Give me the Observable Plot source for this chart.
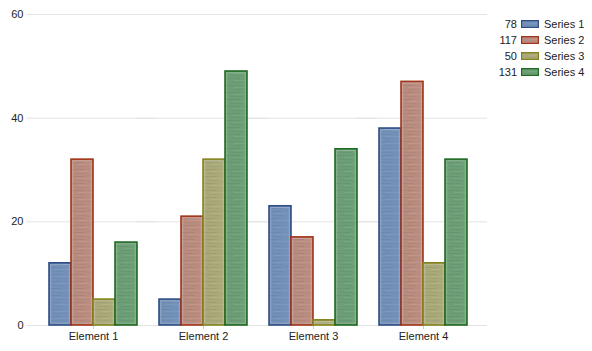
<!DOCTYPE html>
<html><head><meta charset="utf-8">
<script src="https://cdn.jsdelivr.net/npm/d3@7"></script>
<script src="https://cdn.jsdelivr.net/npm/@observablehq/plot@0.6"></script>
<style>
body{margin:0;background:#fff;font-family:"Liberation Sans",Arial,sans-serif;}
#wrap{position:relative;width:592px;height:351px;}
#legend{position:absolute;left:490px;top:16px;font-size:11px;color:#222;}
.row{display:flex;align-items:center;height:16px;}
.val{width:27px;text-align:right;}
.sw{margin-left:4px;margin-right:5px;width:18px;height:8px;}
</style></head>
<body>
<svg width="0" height="0" style="position:absolute">
<defs id="pdefs"></defs>
</svg>
<div id="wrap"><div id="legend"></div></div>
<script>
const elements = ["Element 1", "Element 2", "Element 3", "Element 4"];
const series = ["Series 1", "Series 2", "Series 3", "Series 4"];
const series1 = [12, 5, 23, 38];
const series2 = [32, 21, 17, 47];
const series3 = [5, 32, 1, 12];
const series4 = [16, 49, 34, 32];
const yTicks = [0, 20, 40, 60];
const fills = ["#7391b8", "#b98c80", "#a9a97a", "#6d9f76"];
const strokes = ["#2e4d86", "#a3341a", "#85841c", "#1e6b22"];

const values = [series1, series2, series3, series4];
const data = elements.flatMap((e, i) => series.map((s, j) => ({element: e, series: s, value: values[j][i]})));

// brushed texture patterns
const defs = d3.select("#pdefs");
fills.forEach((f, i) => {
  const c = d3.color(f);
  const p = defs.append("pattern").attr("id", "pat" + i).attr("patternUnits", "userSpaceOnUse")
    .attr("width", 23).attr("height", 7);
  p.append("rect").attr("width", 23).attr("height", 7).attr("fill", f);
  p.append("rect").attr("y", 1).attr("width", 14).attr("height", 1).attr("fill", c.darker(0.18));
  p.append("rect").attr("x", 8).attr("y", 3).attr("width", 15).attr("height", 1).attr("fill", c.brighter(0.15));
  p.append("rect").attr("x", 4).attr("y", 5).attr("width", 12).attr("height", 1).attr("fill", c.darker(0.12));
});
const patFills = fills.map((f, i) => `url(#pat${i})`);

const chart = Plot.plot({
  width: 592, height: 351,
  marginLeft: 37, marginRight: 114, marginTop: 14, marginBottom: 26,
  style: {fontFamily: "Liberation Sans, Arial, sans-serif", fontSize: "11px", color: "#222", background: "transparent"},
  fx: {domain: elements, padding: 0, label: null, tickSize: 4, tickPadding: 3},
  x: {domain: series, paddingInner: 0, paddingOuter: 0.4, axis: null},
  y: {domain: [0, 60], ticks: yTicks, label: null, tickSize: 0, tickPadding: 15},
  color: {domain: series, range: patFills},
  marks: [
    Plot.ruleY(yTicks, {stroke: "#e3e3e3", strokeWidth: 1, insetLeft: -12, insetRight: -9}),
    Plot.barY(data, {fx: "element", x: "series", y: "value", fill: "series",
      stroke: d => strokes[series.indexOf(d.series)], strokeWidth: 1.6, insetLeft: 0, insetRight: 0}),
    Plot.barY(data, {fx: "element", x: "series", y: "value", fill: "none",
      stroke: "#ffffff", strokeOpacity: 0.22, strokeWidth: 1, insetLeft: 1.7, insetRight: 1.7, insetTop: 1.7, insetBottom: 1.7})
  ]
});
document.getElementById("wrap").prepend(chart);
d3.select(chart).selectAll("[aria-label='fx-axis tick'] path, [aria-label='fx-axis tick'] line").attr("stroke", "#cfcfcf");

const legend = d3.select("#legend");
series.forEach((s, j) => {
  const row = legend.append("div").attr("class", "row");
  row.append("div").attr("class", "val").text(d3.sum(values[j]));
  const sw = row.append("svg").attr("class", "sw").attr("width", 18).attr("height", 8);
  sw.append("rect").attr("x", 0.6).attr("y", 0.6).attr("width", 16.8).attr("height", 6.8)
    .attr("fill", patFills[j]).attr("stroke", strokes[j]).attr("stroke-width", 1.2);
  row.append("div").text(s);
});
</script>
</body></html>
